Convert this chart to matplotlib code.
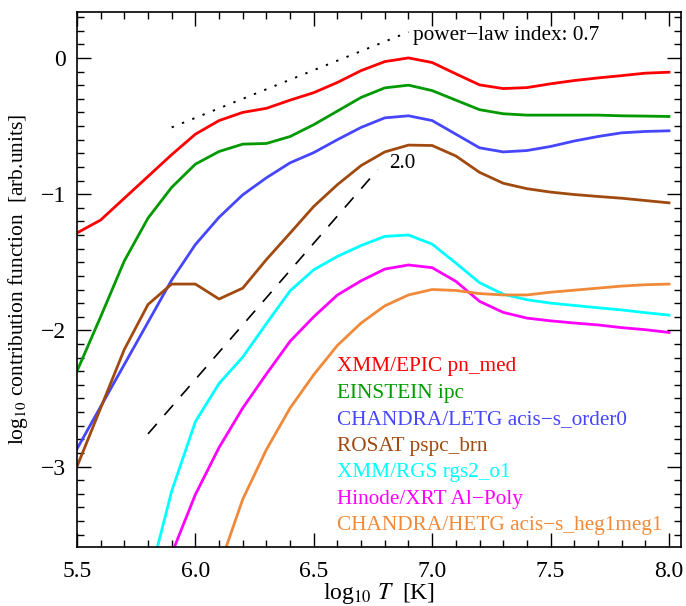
import numpy as np
import matplotlib
matplotlib.use("Agg")
import matplotlib.pyplot as plt

plt.rcParams["font.family"] = ["Liberation Serif", "DejaVu Serif"]
plt.rcParams["mathtext.fontset"] = "stix"
plt.rcParams["font.size"] = 15.5
plt.rcParams["xtick.labelsize"] = 17
plt.rcParams["ytick.labelsize"] = 17

logT = [5.5, 5.6, 5.7, 5.8, 5.9, 6.0, 6.1, 6.2, 6.3, 6.4, 6.5, 6.6, 6.7,
        6.8, 6.9, 7.0, 7.1, 7.2, 7.3, 7.4, 7.5, 7.6, 7.7, 7.8, 7.9, 8.0]

nan = np.nan
xmm_epic = [-1.285, -1.19, -1.03, -0.87, -0.71, -0.56, -0.46, -0.40, -0.37, -0.31, -0.255, -0.18, -0.093,
            -0.027, 0.0, -0.034, -0.117, -0.198, -0.225, -0.218, -0.19, -0.166, -0.147, -0.13, -0.112, -0.105]
einstein = [-2.30, -1.90, -1.49, -1.176, -0.95, -0.78, -0.687, -0.633, -0.628, -0.577, -0.49, -0.39, -0.29,
            -0.22, -0.20, -0.24, -0.31, -0.38, -0.41, -0.42, -0.42, -0.42, -0.42, -0.425, -0.427, -0.43]
chandra_letg = [-2.87, -2.56, -2.25, -1.94, -1.63, -1.37, -1.17, -1.005, -0.88, -0.77, -0.695, -0.60, -0.51,
                -0.44, -0.425, -0.46, -0.56, -0.66, -0.69, -0.68, -0.65, -0.61, -0.577, -0.55, -0.54, -0.535]
rosat = [-3.0, -2.57, -2.14, -1.81, -1.66, -1.66, -1.77, -1.69, -1.48, -1.286, -1.09, -0.93, -0.79,
         -0.69, -0.64, -0.643, -0.72, -0.84, -0.92, -0.96, -0.985, -1.003, -1.017, -1.03, -1.047, -1.064]
xmm_rgs = [nan, nan, nan, -3.86, -3.18, -2.67, -2.39, -2.196, -1.95, -1.71, -1.555, -1.457, -1.377,
           -1.31, -1.30, -1.367, -1.506, -1.65, -1.735, -1.775, -1.80, -1.817, -1.834, -1.85, -1.87, -1.888]
hinode_xrt = [nan, nan, nan, nan, -3.64, -3.205, -2.86, -2.57, -2.32, -2.08, -1.90, -1.74, -1.636,
              -1.55, -1.52, -1.54, -1.64, -1.787, -1.868, -1.91, -1.93, -1.946, -1.96, -1.98, -1.995, -2.015]
chandra_hetg = [nan, nan, nan, nan, nan, nan, -3.74, -3.24, -2.875, -2.57, -2.325, -2.11, -1.946,
                -1.82, -1.74, -1.70, -1.707, -1.73, -1.74, -1.74, -1.72, -1.705, -1.69, -1.675, -1.665, -1.66]

labels = ["XMM/EPIC pn_med", "EINSTEIN ipc", "CHANDRA/LETG acis\u2212s_order0",
          "ROSAT pspc_brn", "XMM/RGS rgs2_o1", "Hinode/XRT Al\u2212Poly",
          "CHANDRA/HETG acis\u2212s_heg1meg1"]
colors = ["#ff0000", "#009a00", "#4646ff", "#a04a10", "#00ffff", "#ff00ff", "#f08a3a"]
series = [xmm_epic, einstein, chandra_letg, rosat, xmm_rgs, hinode_xrt, chandra_hetg]

# reference power laws
pl07_T = [5.9, 6.9]
pl07_y = [-0.51, 0.19]
pl20_T = [5.8, 6.77]
pl20_y = [-2.76, -0.82]

fig = plt.figure(figsize=(6.86, 6.06), dpi=100)
ax = fig.add_axes([0.1122, 0.0974, 0.8805, 0.8828])

for y, c in zip(series, colors):
    ax.plot(logT, y, color=c, linewidth=2.0)

ax.plot(pl07_T, pl07_y, color="black", linestyle=(0, (1.2, 4.5)), linewidth=1.4)
ax.plot(pl20_T, pl20_y, color="black", linestyle=(0, (8, 7)), linewidth=1.2)
ax.text(6.92, 0.132, "power\u2212law index: 0.7", ha="left", va="baseline", fontsize=15.3)
ax.text(6.82, -0.81, "2.0", ha="left", va="baseline", fontsize=15.3)

for i, (lab, c) in enumerate(zip(labels, colors)):
    ax.text(6.60, -2.30 - i * 0.1945, lab, color=c, ha="left", va="baseline", fontsize=15.3)

ax.set_xlim(5.5, 8.0507)
ax.set_ylim(-3.59, 0.337)
ax.set_xticks([5.5, 6.0, 6.5, 7.0, 7.5, 8.0])
ax.set_xticklabels(["5.5", "6.0", "6.5", "7.0", "7.5", "8.0"])
ax.set_yticks([0, -1, -2, -3])
ax.set_yticklabels(["0", "\u22121", "\u22122", "\u22123"])
ax.set_xticks(np.arange(5.5, 8.05, 0.1), minor=True)
ax.set_yticks(np.arange(-3.5, 0.35, 0.1), minor=True)
ax.tick_params(which="both", direction="in", top=True, right=True, width=1.0)
ax.tick_params(which="major", length=10)
ax.tick_params(axis="x", which="major", pad=10)
ax.tick_params(axis="y", which="major", pad=8)
ax.tick_params(which="minor", length=5)
for s in ax.spines.values():
    s.set_linewidth(1.2)

ax.set_xlabel("log$_{10}$ $T$  [K]", fontsize=17)
ax.xaxis.set_label_coords(0.5, -0.064)
ax.set_ylabel("log$_{10}$ contribution function  [arb.units]", fontsize=15.5)
ax.yaxis.set_label_coords(-0.078, 0.5)

plt.savefig("out.png", dpi=100)
